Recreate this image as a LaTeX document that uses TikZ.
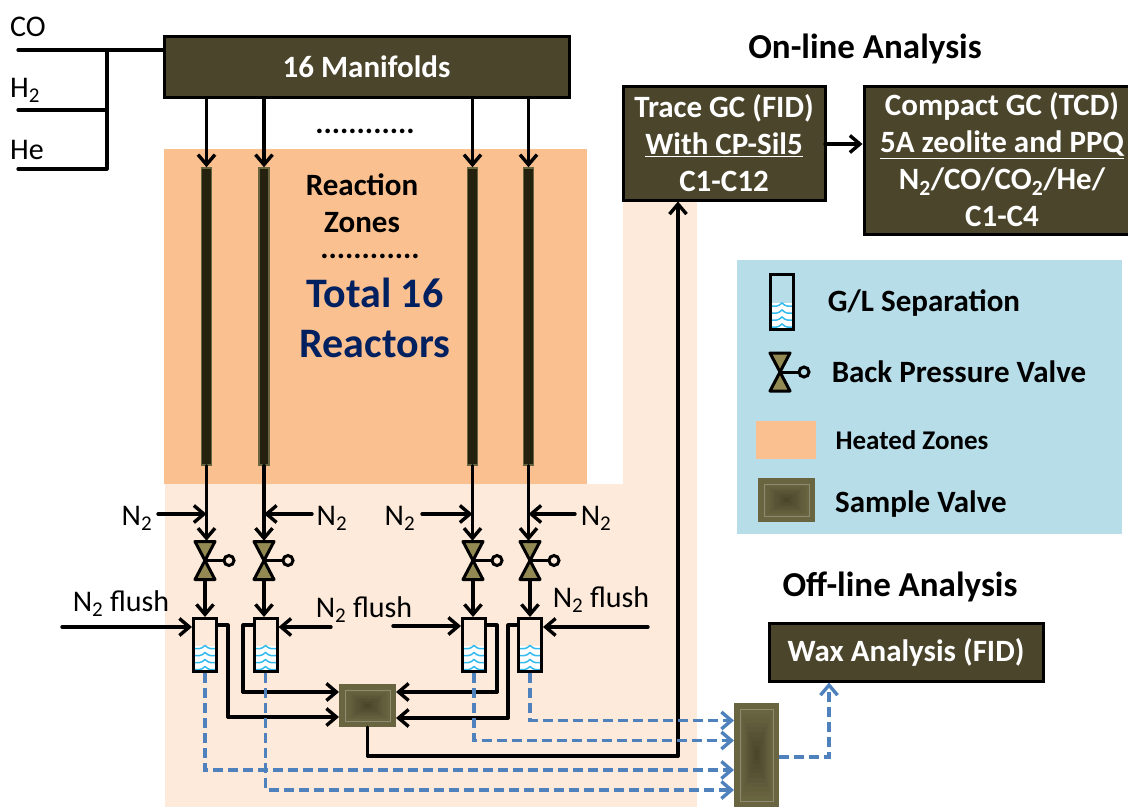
\documentclass[tikz,border=0pt]{standalone}
\usepackage{fontspec}
\setmainfont{Carlito}
\usetikzlibrary{positioning,arrows.meta,calc}
\definecolor{boxdark}{HTML}{4B452C}
\definecolor{tubedark}{HTML}{24210F}
\definecolor{heated}{HTML}{FAC090}
\definecolor{warm}{HTML}{FDEADA}
\definecolor{legendblue}{HTML}{B7DDE8}
\definecolor{valveolive}{HTML}{938953}
\definecolor{frameolive}{HTML}{6A6541}
\definecolor{flowblue}{HTML}{4F81BD}
\definecolor{wavecyan}{HTML}{33BBEE}
\definecolor{navytext}{HTML}{002060}
\tikzset{
    flow/.style={line width=3.4pt, line cap=round, line join=round, -{Straight Barb[length=10pt,width=17pt]}},
    pipe/.style={line width=3.2pt, line cap=round, line join=round},
    waxflow/.style={flowblue, line width=3.4pt, dash pattern=on 10pt off 5pt, -{Straight Barb[length=10pt,width=17pt]}},
    darkbox/.style={draw=black, line width=3pt, fill=boxdark, text=white, align=center, font=\fontsize{31}{37}\selectfont\bfseries, inner sep=0pt},
    plain/.style={font=\fontsize{30}{34}\selectfont, inner sep=0pt},
    title/.style={font=\fontsize{35}{38}\selectfont\bfseries, inner sep=0pt},
    legendtext/.style={font=\fontsize{31}{34}\selectfont\bfseries, inner sep=0pt},
    tube/.style={draw=frameolive, line width=1.5pt, fill=tubedark, minimum width=10pt, minimum height=297pt, inner sep=0pt},
    sepbox/.style={draw=black, line width=3pt, minimum width=23pt, minimum height=53pt, inner sep=0pt,
        path picture={
            \fill[white] (path picture bounding box.south west) rectangle ([yshift=26pt]path picture bounding box.south east);
            \foreach \lift in {2,9,16,23}
                \draw[wavecyan, line width=1.5pt] ([yshift=\lift pt]path picture bounding box.south west)
                    .. controls +(5pt,0pt) and +(-4pt,-4pt) .. ([yshift=\lift pt+3pt,xshift=11.5pt]path picture bounding box.south west)
                    .. controls +(4pt,-4pt) and +(-5pt,0pt) .. ([yshift=\lift pt]path picture bounding box.south east);
        }},
    samplevalve/.style={fill=frameolive, inner sep=0pt,
        path picture={
            \coordinate (ia) at ([xshift=6pt,yshift=6pt]path picture bounding box.south west);
            \coordinate (ib) at ([xshift=-6pt,yshift=-6pt]path picture bounding box.north east);
            \foreach \lvl in {0,...,9}
                \fill[frameolive!\the\numexpr100-\lvl*11\relax!boxdark] ($(ia)!\lvl*0.05!(ib)$) rectangle ($(ib)!\lvl*0.05!(ia)$);
            \draw[frameolive!75!white, line width=0.8pt] (ia) rectangle (ib);
        }},
    pics/backvalve/.style={code={
        \node[inner sep=0pt, minimum width=20pt, minimum height=39pt] (body) {};
        \draw[line width=3pt] (0,0) -- (19,0);
        \draw[line width=3pt] (24,0) circle (5pt);
        \draw[line width=3pt, line join=round, fill=valveolive] (-10,-19) -- (10,-19) -- (0,0) -- cycle;
        \draw[line width=3pt, line join=round, fill=valveolive] (-10,19) -- (10,19) -- (0,0) -- cycle;
    }},
}
\begin{document}
\begin{tikzpicture}[x=1pt, y=-1pt]
    \useasboundingbox (0,0) rectangle (1128,807);
    % zones
    \fill[warm] (165,484) rectangle (697,807);
    \fill[warm] (623,200) rectangle (697,484);
    \fill[heated] (164,149) rectangle (587,484);
    \fill[legendblue] (737,260) rectangle (1122,534);
    % boxes
    \node[darkbox, minimum width=405pt, minimum height=61pt] (manifolds) at (366.5,66.5) {16 Manifolds};
    \node[darkbox, minimum width=202pt, minimum height=114pt] (tracegc) at (724,143) {Trace GC (FID)\\\underline{With CP-Sil5}\\C1-C12};
    \node[darkbox, minimum width=276pt, minimum height=148pt] (compactgc) at (1002,160) {Compact GC (TCD)\\\underline{5A zeolite and PPQ}\\N\textsubscript{2}/CO/CO\textsubscript{2}/He/\\C1-C4};
    \node[darkbox, minimum width=274pt, minimum height=58pt] (waxbox) at (906,652) {Wax Analysis (FID)};
    \node[title] (online) at (865,49) {On-line Analysis};
    \node[title] (offline) at (900,587) {Off-line Analysis};
    % gas feed
    \node[plain, anchor=west] (colabel) at (10,27) {CO};
    \node[plain, anchor=west] (htwolabel) at (10,90) {H\textsubscript{2}};
    \node[plain, anchor=west] (helabel) at (10,150) {He};
    \coordinate (cofeed) at (18,50);
    \coordinate (htwofeed) at (18,110);
    \coordinate (hefeed) at (18,169);
    \coordinate (joint) at (107,50);
    \draw[pipe] (cofeed) -- (cofeed -| manifolds.west);
    \draw[pipe] (joint) -- (joint |- hefeed) -- (hefeed);
    \draw[pipe] (htwofeed) -- (htwofeed -| joint);
    % reactors
    \node[tube] (tubeA) at (206.5,316.5) {};
    \node[tube] (tubeB) at (264,316.5) {};
    \node[tube] (tubeC) at (472.5,316.5) {};
    \node[tube] (tubeD) at (528.5,316.5) {};
    \node[font=\fontsize{31}{37}\selectfont\bfseries, align=center, inner sep=0pt] (zones) at (362,203) {Reaction\\Zones};
    \node[font=\fontsize{31}{34}\selectfont\bfseries, inner sep=0pt] (dotsup) at (365,131) {............};
    \node[font=\fontsize{31}{34}\selectfont\bfseries, inner sep=0pt] (dotsdown) at (370,256) {............};
    \node[font=\fontsize{42}{50}\selectfont\bfseries, text=navytext, align=center, inner sep=0pt] (total) at (375,318) {Total 16\\Reactors};
    \foreach \t in {A,B,C,D}
        \draw[flow] (manifolds.south -| tube\t.north) -- (tube\t.north);
    % valves and separators
    \pic (valveA) at (205,560.5) {backvalve};
    \pic (valveB) at (264,560.5) {backvalve};
    \pic (valveC) at (473,560.5) {backvalve};
    \pic (valveD) at (530,560.5) {backvalve};
    \node[sepbox] (sepA) at (205,645) {};
    \node[sepbox] (sepB) at (265.5,645) {};
    \node[sepbox] (sepC) at (474,645) {};
    \node[sepbox] (sepD) at (530,645) {};
    \foreach \t in {A,B,C,D}{
        \draw[flow] (tube\t.south) -- (tube\t.south |- valve\t body.north);
        \draw[flow] (valve\t body.south) -- (valve\t body.south |- sep\t.north);
    }
    % nitrogen
    \node[plain] (ntwoA) at (137,518) {N\textsubscript{2}};
    \node[plain] (ntwoB) at (332,518) {N\textsubscript{2}};
    \node[plain] (ntwoC) at (400,518) {N\textsubscript{2}};
    \node[plain] (ntwoD) at (596,518) {N\textsubscript{2}};
    \coordinate (ntwoAend) at (158,514);
    \coordinate (ntwoBend) at (312,514);
    \coordinate (ntwoCend) at (422,514);
    \coordinate (ntwoDend) at (575,514);
    \draw[flow] (ntwoAend) -- (ntwoAend -| tubeA.south);
    \draw[flow] (ntwoBend) -- (ntwoBend -| tubeB.south);
    \draw[flow] (ntwoCend) -- (ntwoCend -| tubeC.south);
    \draw[flow] (ntwoDend) -- (ntwoDend -| tubeD.south);
    \node[plain] (flushA) at (121,604) {N\textsubscript{2} flush};
    \node[plain] (flushB) at (364,610) {N\textsubscript{2} flush};
    \node[plain] (flushD) at (601,600) {N\textsubscript{2} flush};
    \coordinate (flushAend) at (62,627);
    \coordinate (flushBend) at (331,627);
    \coordinate (flushCend) at (393,626);
    \coordinate (flushDend) at (648,627);
    \draw[flow] (flushAend) -- (flushAend -| sepA.west);
    \draw[flow] (flushBend) -- (flushBend -| sepB.east);
    \draw[flow] (flushCend) -- (flushCend -| sepC.west);
    \draw[flow] (flushDend) -- (flushDend -| sepD.east);
    % sample valves
    \node[samplevalve, minimum width=57pt, minimum height=43pt] (midvalve) at (367.5,705.5) {};
    \node[samplevalve, minimum width=45pt, minimum height=104pt] (bigvalve) at (756.5,755) {};
    \coordinate (bendA) at (228,625);
    \coordinate (bendB) at (243,625);
    \coordinate (bendC) at (497,625);
    \coordinate (bendD) at (508,625);
    \coordinate (portA) at (339,717);
    \coordinate (portB) at (339,692);
    \coordinate (portC) at (396,692);
    \coordinate (portD) at (396,718);
    \draw[pipe] (sepA.east |- bendA) -- (bendA) -- (bendA |- portA);
    \draw[flow] (bendA |- portA) -- (portA);
    \draw[pipe] (sepB.west |- bendB) -- (bendB) -- (bendB |- portB);
    \draw[flow] (bendB |- portB) -- (portB);
    \draw[pipe] (sepC.east |- bendC) -- (bendC) -- (bendC |- portC);
    \draw[flow] (bendC |- portC) -- (portC);
    \draw[pipe] (sepD.west |- bendD) -- (bendD) -- (bendD |- portD);
    \draw[flow] (bendD |- portD) -- (portD);
    \coordinate (riser) at (678,756);
    \draw[pipe] (midvalve.south) -- (midvalve.south |- riser) -- (riser);
    \draw[flow] (riser) -- (riser |- tracegc.south);
    \coordinate (gclink) at (825,144);
    \draw[flow] (gclink) -- (gclink -| compactgc.west);
    % wax lines
    \coordinate (inD) at (734,720.5);
    \coordinate (inC) at (734,740.5);
    \coordinate (inA) at (734,770);
    \coordinate (inB) at (734,790);
    \draw[waxflow] (sepD.south) |- (inD);
    \draw[waxflow] (sepC.south) |- (inC);
    \draw[waxflow] (sepA.south) |- (inA);
    \draw[waxflow] (sepB.south) |- (inB);
    \coordinate (waxout) at (829,757);
    \draw[waxflow] (bigvalve.east |- waxout) -- (waxout) -- (waxout |- waxbox.south);
    % legend
    \node[sepbox, minimum height=55pt] (legendsep) at (782,301.5) {};
    \pic (legendvalve) at (780,372) {backvalve};
    \node[fill=heated, minimum width=60pt, minimum height=38pt, inner sep=0pt] (legendheat) at (786,440) {};
    \node[samplevalve, minimum width=57pt, minimum height=44pt] (legendsample) at (786.5,500) {};
    \node[legendtext] (legendA) at (924,303) {G/L Separation};
    \node[legendtext] (legendB) at (959,372) {Back Pressure Valve};
    \node[legendtext, font=\fontsize{27}{30}\selectfont\bfseries] (legendC) at (912,440) {Heated Zones};
    \node[legendtext] (legendD) at (921,504) {Sample Valve};
\end{tikzpicture}
\end{document}
